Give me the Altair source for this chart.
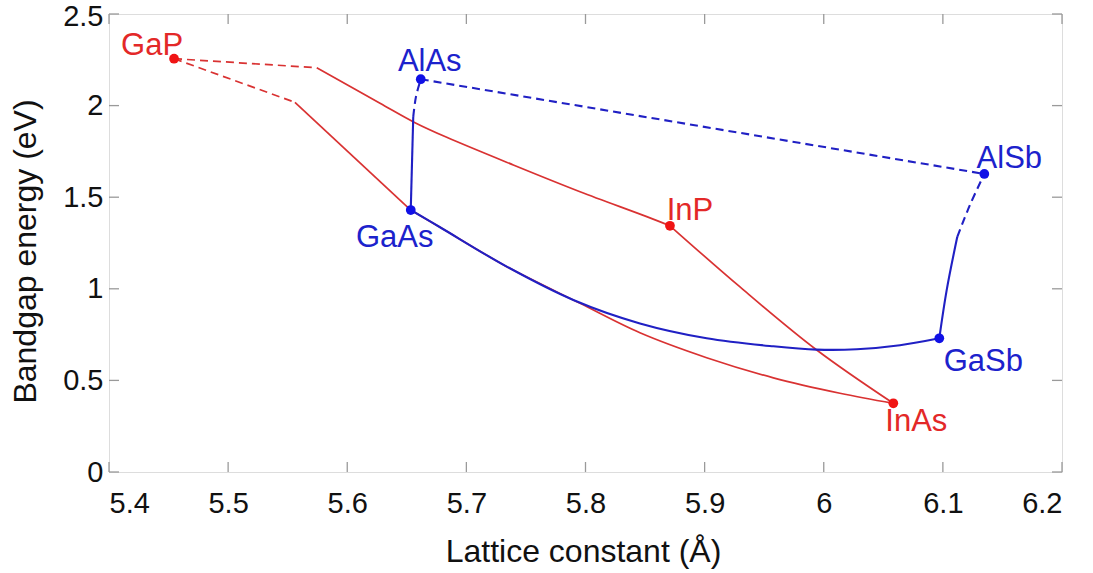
import altair as alt
import pandas as pd

# ---- compounds (lattice constant in Å, bandgap in eV) ----
names = ["GaP", "AlAs", "GaAs", "InP", "InAs", "GaSb", "AlSb"]
latt = [5.4546, 5.6617, 5.6533, 5.8709, 6.0584, 6.0970, 6.1348]
gap = [2.256, 2.144, 1.430, 1.344, 0.375, 0.730, 1.627]
family = ["red", "blue", "blue", "red", "red", "blue", "blue"]

# ---- alloy curves ----
gap_inp_dash_x = [5.4546, 5.5744]
gap_inp_dash_y = [2.256, 2.207]
gainp_x = [5.5744, 5.6275, 5.6569, 5.6835, 5.7394, 5.7954, 5.8514, 5.8709]
gainp_y = [2.207, 2.013, 1.907, 1.827, 1.676, 1.530, 1.394, 1.344]

gap_gaas_dash_x = [5.4546, 5.5561]
gap_gaas_dash_y = [2.256, 2.018]
gaasp_x = [5.5561, 5.6533]
gaasp_y = [2.018, 1.430]

ingaas_x = [5.6533, 5.6779, 5.7339, 5.7954, 5.8457, 5.9017, 5.9577, 6.0136, 6.0584]
ingaas_y = [1.430, 1.336, 1.121, 0.921, 0.760, 0.624, 0.514, 0.430, 0.375]

inasp_x = [5.8709, 5.9297, 5.9941, 6.0584]
inasp_y = [1.344, 1.010, 0.666, 0.375]

algaas_x = [5.6533, 5.6554]
algaas_y = [1.430, 1.939]
algaas_dash_x = [5.6554, 5.6577, 5.6617]
algaas_dash_y = [1.939, 2.049, 2.144]

alassb_x = [5.6617, 6.1348]
alassb_y = [2.144, 1.627]

gaassb_x = [5.6533, 5.6779, 5.7339, 5.7898, 5.8457, 5.9017, 5.9577, 5.9941, 6.0277, 6.0640, 6.0970]
gaassb_y = [1.430, 1.336, 1.121, 0.939, 0.811, 0.730, 0.686, 0.668, 0.670, 0.692, 0.730]

algasb_x = [6.0970, 6.1032, 6.1121]
algasb_y = [0.730, 0.993, 1.284]
algasb_dash_x = [6.1121, 6.1227, 6.1348]
algasb_dash_y = [1.284, 1.457, 1.627]

x_ticks = [5.4, 5.5, 5.6, 5.7, 5.8, 5.9, 6.0, 6.1, 6.2]
y_ticks = [0, 0.5, 1, 1.5, 2, 2.5]

# ---- build tables ----
segments = [
    ("gap_inp_dash", gap_inp_dash_x, gap_inp_dash_y, "red", "dash"),
    ("gainp", gainp_x, gainp_y, "red", "solid"),
    ("gap_gaas_dash", gap_gaas_dash_x, gap_gaas_dash_y, "red", "dash"),
    ("gaasp", gaasp_x, gaasp_y, "red", "solid"),
    ("ingaas", ingaas_x, ingaas_y, "red", "solid"),
    ("inasp", inasp_x, inasp_y, "red", "solid"),
    ("algaas", algaas_x, algaas_y, "blue", "solid"),
    ("algaas_dash", algaas_dash_x, algaas_dash_y, "blue", "dash"),
    ("alassb", alassb_x, alassb_y, "blue", "dash"),
    ("gaassb", gaassb_x, gaassb_y, "blue", "solid"),
    ("algasb", algasb_x, algasb_y, "blue", "solid"),
    ("algasb_dash", algasb_dash_x, algasb_dash_y, "blue", "dash"),
]
rows = []
for seg, xs, ys, fam, sty in segments:
    for i, (xv, yv) in enumerate(zip(xs, ys)):
        rows.append({"a": xv, "e": yv, "seg": seg, "idx": i, "fam": fam, "sty": sty})
lines = pd.DataFrame(rows)
pts = pd.DataFrame({"a": latt, "e": gap, "name": names, "fam": family})
xt = pd.DataFrame({"a": x_ticks})
yt = pd.DataFrame({"e": y_ticks})

W, H = 953, 458
FONT = "Liberation Sans"
RED_LINE, RED_DOT, RED_TXT = "#d93232", "#f01414", "#e32828"
BLUE_LINE, BLUE_DOT, BLUE_TXT = "#2020c4", "#1010e6", "#1c22cc"
TICK = "#9a9a9a"

xscale = alt.Scale(domain=[5.4, 6.2], nice=False, zero=False)
yscale = alt.Scale(domain=[0, 2.5], nice=False)
xaxis = alt.Axis(values=x_ticks, format="~g", ticks=False, tickSize=0, domain=False, grid=False,
                 labelFontSize=29, labelFont=FONT, labelColor="#111111", labelPadding=40,
                 labelBaseline="alphabetic", title="Lattice constant (Å)", titleFont=FONT,
                 titleFontSize=32, titleFontWeight="normal", titleColor="#111111",
                 titleX=474, titleY=89, titleBaseline="alphabetic")
yaxis = alt.Axis(values=y_ticks, format="~g", ticks=False, tickSize=0, domain=False, grid=False,
                 labelFontSize=29, labelFont=FONT, labelColor="#111111", labelPadding=6,
                 labelOffset={"condition": {"test": "datum.value >= 2.5", "value": 2}, "value": 0},
                 title="Bandgap energy (eV)", titleFont=FONT, titleFontSize=32,
                 titleFontWeight="normal", titleColor="#111111",
                 titleX=-74, titleY=237, titleBaseline="alphabetic", titleAngle=270)


def X(f="a"):
    return alt.X(f"{f}:Q", scale=xscale, axis=xaxis)


def Y(f="e"):
    return alt.Y(f"{f}:Q", scale=yscale, axis=yaxis)


layers = []
# inward ticks on all four sides
layers.append(alt.Chart(xt).mark_rule(color=TICK, strokeWidth=1.3).encode(
    x=X(), y=alt.value(H), y2=alt.value(H - 10)))
layers.append(alt.Chart(xt).mark_rule(color=TICK, strokeWidth=1.3).encode(
    x=X(), y=alt.value(0), y2=alt.value(10)))
layers.append(alt.Chart(yt).mark_rule(color=TICK, strokeWidth=1.3).encode(
    y=Y(), x=alt.value(0), x2=alt.value(10)))
layers.append(alt.Chart(yt).mark_rule(color=TICK, strokeWidth=1.3).encode(
    y=Y(), x=alt.value(W), x2=alt.value(W - 10)))

for fam, col, sw in [("red", RED_LINE, 1.7), ("blue", BLUE_LINE, 2.1)]:
    for sty in ["solid", "dash"]:
        kw = dict(color=col, strokeWidth=sw, interpolate="catmull-rom")
        if sty == "dash":
            kw["strokeDash"] = [8, 5]
        layers.append(
            alt.Chart(lines).transform_filter(
                (alt.datum.fam == fam) & (alt.datum.sty == sty)
            ).mark_line(**kw).encode(x=X(), y=Y(), detail="seg:N", order="idx:Q")
        )

for fam, col in [("red", RED_DOT), ("blue", BLUE_DOT)]:
    layers.append(
        alt.Chart(pts).transform_filter(alt.datum.fam == fam)
        .mark_circle(color=col, size=95, opacity=1).encode(x=X(), y=Y())
    )

label_offsets = {
    "GaP": (-22, -4),
    "AlAs": (9, -8),
    "GaAs": (-16, 37),
    "InP": (20, -6),
    "InAs": (23, 28),
    "GaSb": (44, 33),
    "AlSb": (25, -6),
}
for nm, fam in zip(names, family):
    dx, dy = label_offsets[nm]
    layers.append(
        alt.Chart(pts).transform_filter(alt.datum.name == nm).mark_text(
            font=FONT, fontSize=31, align="center", baseline="alphabetic",
            dx=dx, dy=dy, color=RED_TXT if fam == "red" else BLUE_TXT
        ).encode(x=X(), y=Y(), text="name:N")
    )

chart = alt.layer(*layers).properties(
    width=W, height=H,
    autosize=alt.AutoSizeParams(type="none"),
    padding={"left": 109, "top": 14, "right": 31, "bottom": 101},
).configure_view(stroke="#9a9a9a", strokeWidth=1.5).configure(background="white")

chart.save("out.html", embed_options={"renderer": "svg", "actions": False})
